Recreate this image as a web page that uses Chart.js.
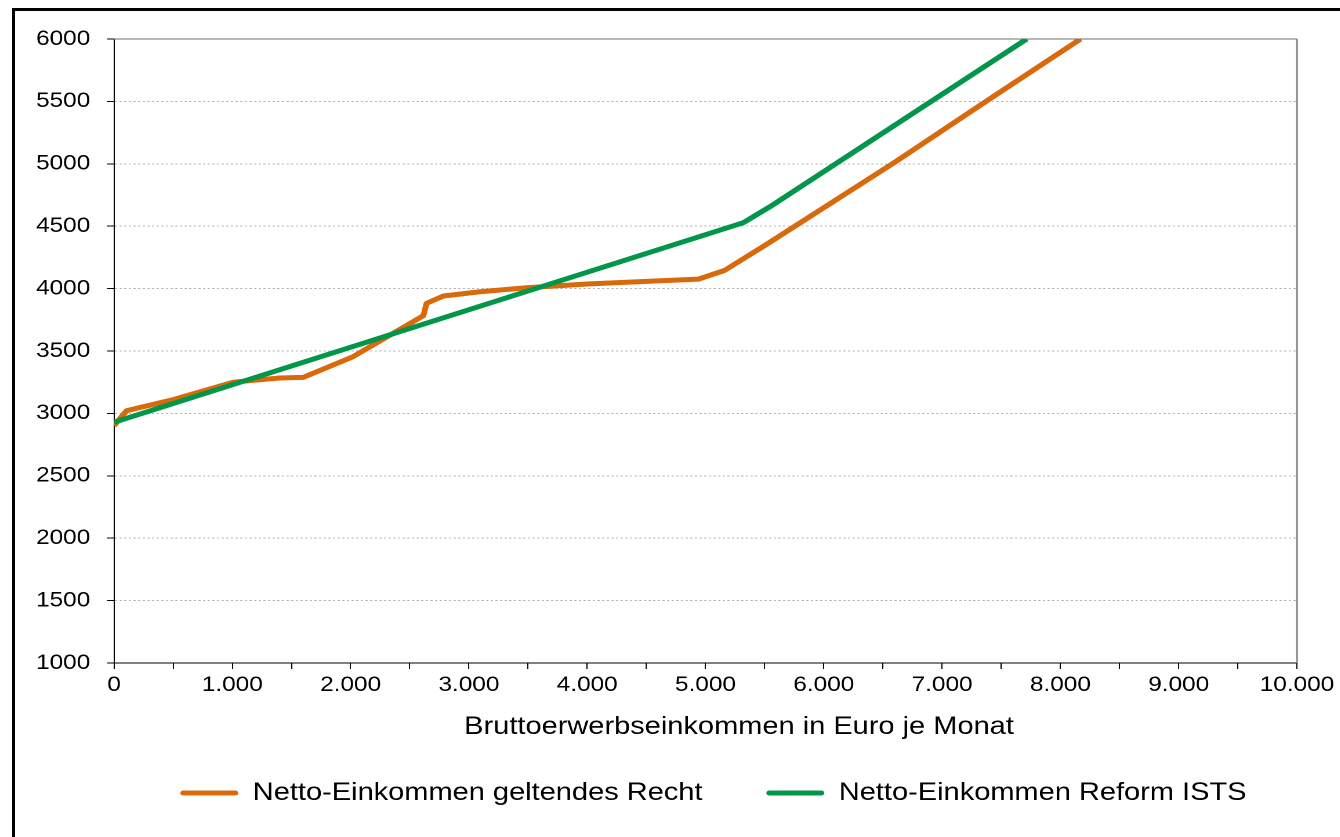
<!DOCTYPE html>
<html>
<head>
<meta charset="utf-8">
<script src="https://cdn.jsdelivr.net/npm/chart.js@4.4.1/dist/chart.umd.min.js"></script>
<style>
html,body{margin:0;padding:0;background:#fff;overflow:hidden;width:1340px;height:837px;}
#frame{position:absolute;left:12px;top:8px;width:1420px;height:900px;border:3px solid #000;box-sizing:border-box;pointer-events:none;}
#wrap{position:absolute;left:0;top:0;width:1230px;height:837px;transform:scaleX(1.16);transform-origin:0 0;}
canvas{display:block;}
</style>
</head>
<body>
<div id="wrap"><canvas id="c" width="1230" height="837" style="width:1230px;height:837px"></canvas></div>
<div id="frame"></div>
<script>
// ---- data ----
const currentLawX = [0, 107, 500, 1006, 1400, 1600, 2020, 2615, 2642, 2784, 3094, 3500, 4000, 4500, 4940, 5160, 5500, 6600, 7376, 8170];
const currentLawY = [2902, 3022, 3110, 3250, 3284, 3289, 3454, 3783, 3882, 3941, 3975, 4008, 4037, 4058, 4076, 4145, 4345, 5012, 5503, 6000];
const reformX = [0, 5320, 5545, 7715];
const reformY = [2929, 4528, 4656, 6000];
const seriesLabels = ['Netto-Einkommen geltendes Recht', 'Netto-Einkommen Reform ISTS'];
const xTickLabels = ['0', '1.000', '2.000', '3.000', '4.000', '5.000', '6.000', '7.000', '8.000', '9.000', '10.000'];
const yTickLabels = ['1000', '1500', '2000', '2500', '3000', '3500', '4000', '4500', '5000', '5500', '6000'];
const xAxisTitle = 'Bruttoerwerbseinkommen in Euro je Monat';

const FONT = '"Liberation Sans", Arial, Helvetica, sans-serif';
Chart.defaults.font.family = FONT;
Chart.defaults.color = '#000';

const ORANGE = '#D86A0C';
const GREEN = '#01964A';

const plotFrame = {
  id: 'plotFrame',
  afterDatasetsDraw(chart) {
    const {ctx, chartArea: a} = chart;
    ctx.save();
    ctx.strokeStyle = '#6e6e6e';
    ctx.lineWidth = 1;
    ctx.beginPath();
    ctx.moveTo(a.left, a.top);
    ctx.lineTo(a.right, a.top);
    ctx.stroke();
    ctx.strokeStyle = '#8a8a8a';
    ctx.lineWidth = 1.6;
    ctx.beginPath();
    ctx.moveTo(a.right, a.top);
    ctx.lineTo(a.right, a.bottom);
    ctx.stroke();
    ctx.restore();
  },
  afterDraw(chart) {
    const ctx = chart.ctx;
    ctx.save();
    ctx.font = '25px ' + FONT;
    ctx.fillStyle = '#000';
    ctx.textAlign = 'center';
    ctx.textBaseline = 'middle';
    ctx.fillText(chart.options.scales.x.title.text, 637.1, 727);
    ctx.restore();
  }
};

new Chart(document.getElementById('c'), {
  type: 'line',
  data: {
    datasets: [
      {
        label: seriesLabels[0],
        data: currentLawX.map((x, i) => ({x: x, y: currentLawY[i]})),
        borderColor: ORANGE, backgroundColor: ORANGE,
        borderWidth: 5, pointRadius: 0, pointHoverRadius: 0, tension: 0, fill: false,
        borderJoinStyle: 'round', order: 1
      },
      {
        label: seriesLabels[1],
        data: reformX.map((x, i) => ({x: x, y: reformY[i]})),
        borderColor: GREEN, backgroundColor: GREEN,
        borderWidth: 5, pointRadius: 0, pointHoverRadius: 0, tension: 0, fill: false,
        borderJoinStyle: 'round', order: 0
      }
    ]
  },
  options: {
    responsive: false,
    devicePixelRatio: 2,
    animation: false,
    events: [],
    layout: {padding: {left: 0, right: 0, top: 39, bottom: 21.5}},
    scales: {
      x: {
        type: 'linear', min: 0, max: 10000,
        afterFit(s) { s.height = 62.5; },
        ticks: {
          stepSize: 500, autoSkip: false, maxRotation: 0, minRotation: 0,
          color: '#000', font: {size: 21}, padding: 3.4,
          callback: v => (v % 1000 === 0 ? xTickLabels[v / 1000] : '')
        },
        grid: {display: true, drawOnChartArea: false, drawTicks: true, tickLength: 6, tickColor: '#000', tickWidth: 1, tickBorderDash: []},
        border: {display: true, color: '#000', width: 1},
        title: {display: false, text: xAxisTitle}
      },
      y: {
        type: 'linear', min: 1000, max: 6000,
        afterFit(s) { s.width = 98.28; },
        ticks: {
          stepSize: 500, color: '#000', font: {size: 21}, padding: 14.5,
          callback: (v, i) => yTickLabels[i]
        },
        grid: {
          color: c => (c.tick && (c.tick.value === 1000 || c.tick.value === 6000)) ? 'rgba(0,0,0,0)' : '#b8b8b8',
          lineWidth: 1, drawTicks: true, tickLength: 6, tickColor: '#000', tickWidth: 1, tickBorderDash: []
        },
        border: {display: true, color: '#000', width: 1, dash: [2, 2]}
      },
      yPad: {
        type: 'linear', position: 'right', display: true,
        afterFit(s) { s.width = 1230 - 1118.1; },
        grid: {display: false, drawTicks: false},
        ticks: {display: false},
        border: {display: false}
      }
    },
    plugins: {
      tooltip: {enabled: false},
      title: {display: false},
      legend: {
        display: true, position: 'bottom', align: 'center', fullSize: true,
        labels: {
          boxWidth: 50, boxHeight: 5, padding: 55, color: '#000', font: {size: 25},
          useBorderRadius: true, borderRadius: 2.5,
          generateLabels: chart => chart.data.datasets.map((ds, i) => ({
            text: ds.label, fillStyle: ds.borderColor, strokeStyle: ds.borderColor,
            lineWidth: 0, hidden: false, datasetIndex: i, borderRadius: 2.5, fontColor: '#000'
          }))
        }
      }
    }
  },
  plugins: [plotFrame]
});
</script>
</body>
</html>
